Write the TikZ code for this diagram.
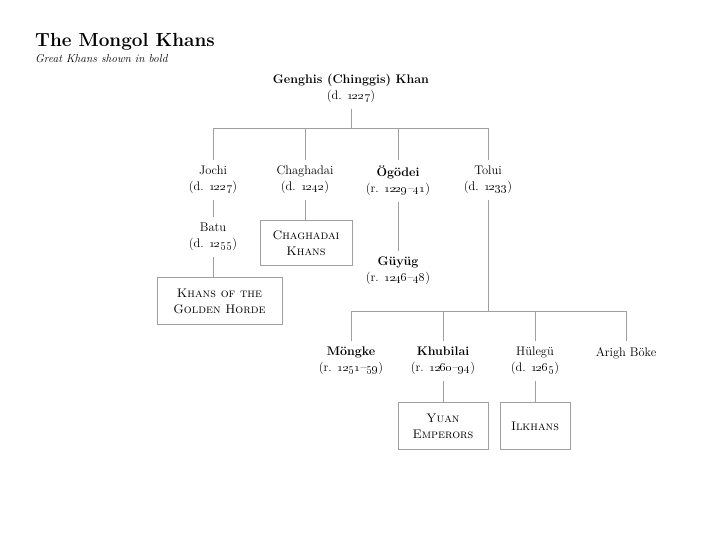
\documentclass[tikz,border=0pt]{standalone}
\usetikzlibrary{positioning}
\newcommand{\treefont}{\fontsize{12.5}{16}\selectfont}
\newcommand{\yr}[1]{\oldstylenums{#1}}
\tikzset{
  kin/.style={draw=gray!75, line width=0.9pt},
  khan/.style={align=center, font=\treefont, inner xsep=3pt, inner ysep=6pt, anchor=north},
  realm/.style={draw=gray!75, line width=0.9pt, align=center, font=\treefont\scshape,
    anchor=north, inner sep=3pt},
}
\begin{document}
\begin{tikzpicture}[x=1bp, y=-1bp]
  \useasboundingbox (0,0) rectangle (720,540);
  % title
  \node[anchor=base west, inner sep=0, font=\fontsize{19}{22}\selectfont\bfseries] (title) at (35,47) {The Mongol Khans};
  \node[anchor=base west, inner sep=0, font=\fontsize{11.5}{13}\selectfont\itshape] (subtitle) at (35,63) {Great Khans shown in bold};

  % Genghis and his sons
  \node[khan] (genghis) at (351,68) {\textbf{Genghis (Chinggis) Khan}\\(d. \yr{1227})};
  \node[khan] (jochi) at (213,160) {Jochi\\(d. \yr{1227})};
  \node[khan] (chaghadai) at (305,160) {Chaghadai\\(d. \yr{1242})};
  \node[khan] (ogodei) at (398,160) {\textbf{Ögödei}\\(r. \yr{1229}--\yr{41})};
  \node[khan] (tolui) at (488,160) {Tolui\\(d. \yr{1233})};
  \coordinate (bar1) at (351,128);
  \draw[kin] (genghis.south) -- (bar1);
  \draw[kin] (jochi.north |- bar1) -- (tolui.north |- bar1);
  \draw[kin] (jochi.north) -- (jochi.north |- bar1);
  \draw[kin] (chaghadai.north) -- (chaghadai.north |- bar1);
  \draw[kin] (ogodei.north) -- (ogodei.north |- bar1);
  \draw[kin] (tolui.north) -- (tolui.north |- bar1);

  % Jochi line
  \node[khan] (batu) at (213,217) {Batu\\(d. \yr{1255})};
  \node[realm, minimum width=125bp, minimum height=47bp] (horde) at (219.5,277) {Khans of the\\Golden Horde};
  \draw[kin] (jochi.south) -- (batu.north);
  \draw[kin] (batu.south) -- (batu.south |- horde.north);

  % Chaghadai line
  \node[realm, minimum width=92bp, minimum height=45bp] (chkhans) at (306,220) {Chaghadai\\Khans};
  \draw[kin] (chaghadai.south) -- (chaghadai.south |- chkhans.north);

  % Ogodei line
  \node[khan] (guyug) at (398,251) {\textbf{Güyüg}\\(r. \yr{1246}--\yr{48})};
  \draw[kin] (ogodei.south) -- (guyug.north);

  % Tolui and his sons
  \coordinate (bar2) at (488,311);
  \node[khan] (mongke) at (351,341) {\textbf{Möngke}\\(r. \yr{1251}--\yr{59})};
  \node[khan] (khubilai) at (443,341) {\textbf{Khubilai}\\(r. \yr{1260}--\yr{94})};
  \node[khan] (hulegu) at (535,341) {Hülegü\\(d. \yr{1265})};
  \node[khan] (arigh) at (626,341) {Arigh Böke};
  \draw[kin] (tolui.south) -- (bar2);
  \draw[kin] (mongke.north |- bar2) -- (arigh.north |- bar2);
  \draw[kin] (mongke.north) -- (mongke.north |- bar2);
  \draw[kin] (khubilai.north) -- (khubilai.north |- bar2);
  \draw[kin] (hulegu.north) -- (hulegu.north |- bar2);
  \draw[kin] (arigh.north) -- (arigh.north |- bar2);

  % successor states
  \node[realm, minimum width=90bp, minimum height=47bp] (yuan) at (443,402) {Yuan\\Emperors};
  \node[realm, minimum width=70bp, minimum height=47bp] (ilkhans) at (535,402) {Ilkhans};
  \draw[kin] (khubilai.south) -- (yuan.north);
  \draw[kin] (hulegu.south) -- (ilkhans.north);
\end{tikzpicture}
\end{document}
